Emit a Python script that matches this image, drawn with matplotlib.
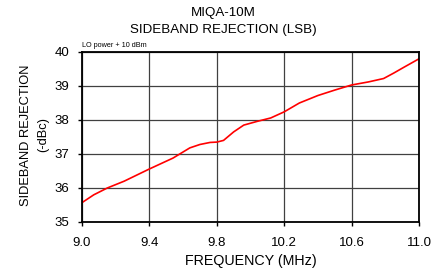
import matplotlib
matplotlib.use('Agg')
import matplotlib.pyplot as plt
import numpy as np

plt.rcParams['font.family'] = ['Liberation Sans', 'DejaVu Sans']

freq = [9.0, 9.07, 9.15, 9.25, 9.4, 9.54, 9.6, 9.64, 9.7, 9.76, 9.8, 9.84,
        9.9, 9.96, 10.04, 10.12, 10.2, 10.29, 10.4, 10.5, 10.6, 10.7,
        10.79, 10.85, 10.91, 11.0]
rejection = [35.57, 35.8, 36.0, 36.2, 36.56, 36.88, 37.06, 37.18, 37.28, 37.34,
             37.35, 37.4, 37.65, 37.85, 37.96, 38.06, 38.24, 38.5, 38.72, 38.88,
             39.03, 39.12, 39.22, 39.38, 39.55, 39.8]
xticks = [9.0, 9.4, 9.8, 10.2, 10.6, 11.0]
yticks = [35, 36, 37, 38, 39, 40]

fig = plt.figure(figsize=(4.34, 2.69), dpi=100)
ax = fig.add_axes([82/434, 1 - 222/269, (419 - 82)/434, (222 - 52)/269])

ax.plot(freq, rejection, color='red', lw=1.2)

ax.set_xlim(9.0, 11.0)
ax.set_ylim(35, 40)
ax.set_xticks(xticks)
ax.set_xticklabels([f'{v:.1f}' for v in xticks])
ax.set_yticks(yticks)
ax.grid(True, color='#404040', lw=0.9)
ax.tick_params(labelsize=9.5, length=3, width=1, direction='out', pad=6)
ax.tick_params(axis='x', pad=8)
for s in ax.spines.values():
    s.set_linewidth(1.3)

fig.text(251/434, 1 - 261/269, 'FREQUENCY (MHz)', ha='center', va='center', fontsize=10.3)
fig.text(26/434, 1 - 135/269, 'SIDEBAND REJECTION', rotation=90, ha='center', va='center', fontsize=9.3)
fig.text(43/434, 1 - 135/269, '(-dBc)', rotation=90, ha='center', va='center', fontsize=9.3)
fig.text(223/434, 1 - 13/269, 'MIQA-10M', ha='center', va='center', fontsize=9.6)
fig.text(223/434, 1 - 30/269, 'SIDEBAND REJECTION (LSB)', ha='center', va='center', fontsize=9.6)
ax.text(0.0, 1.02, 'LO power + 10 dBm', transform=ax.transAxes, ha='left', va='bottom', fontsize=5.2)

fig.savefig('out.png', dpi=100)
